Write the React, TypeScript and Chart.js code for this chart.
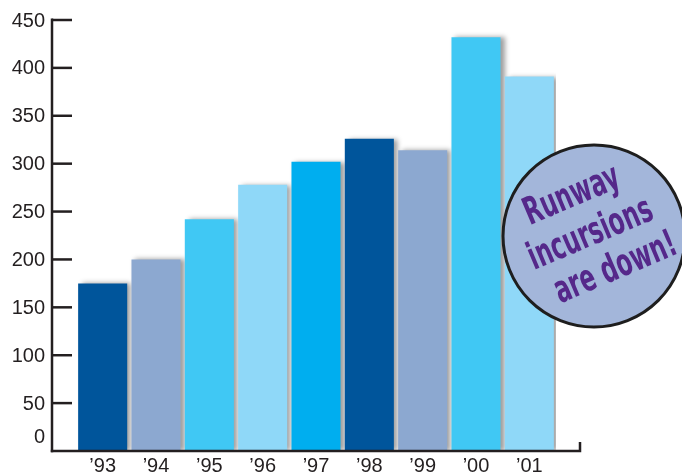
import React, { useEffect, useRef } from "react";
import { Chart, registerables } from "chart.js";

Chart.register(...registerables);

const years = ["’93", "’94", "’95", "’96", "’97", "’98", "’99", "’00", "’01"];
const incursions = [175, 200, 242, 278, 302, 326, 314, 432, 391];
const barColors = [
  "#00559B", "#8CA8D0", "#40C8F4", "#8FD8F8", "#00AEEF",
  "#00559B", "#8CA8D0", "#40C8F4", "#8FD8F8",
];
const yTickValues = [0, 50, 100, 150, 200, 250, 300, 350, 400, 450];
const badgeLines = ["Runway", "incursions", "are down!"];

const INK = "#231f20";
const FONT = "'Liberation Sans', Arial, sans-serif";
const BADGE_FONT = "'DejaVu Sans Condensed', 'DejaVu Sans', sans-serif";

const axesPlugin = {
  id: "customAxes",
  beforeDatasetsDraw(chart: any) {
    const ctx = chart.ctx;
    ctx.save();
    ctx.shadowColor = "rgba(0,0,0,0.38)";
    ctx.shadowBlur = 5;
    ctx.shadowOffsetX = 4;
    ctx.shadowOffsetY = 0;
  },
  afterDatasetsDraw(chart: any) {
    chart.ctx.restore();
  },
  afterDraw(chart: any) {
    const ctx = chart.ctx;
    const y = chart.scales.y;
    const area = chart.chartArea;
    const axisX = 52;
    const zeroY = y.getPixelForValue(0);
    const topY = y.getPixelForValue(450);
    ctx.save();
    ctx.strokeStyle = INK;
    ctx.lineWidth = 2.5;
    ctx.lineCap = "butt";
    ctx.beginPath();
    ctx.moveTo(axisX, topY - 1.5);
    ctx.lineTo(axisX, zeroY + 1.2);
    ctx.stroke();
    ctx.beginPath();
    ctx.moveTo(axisX - 1.2, zeroY);
    ctx.lineTo(area.right + 24, zeroY);
    ctx.lineTo(area.right + 24, zeroY - 9);
    ctx.stroke();
    ctx.fillStyle = INK;
    ctx.font = `20px ${FONT}`;
    ctx.textAlign = "right";
    ctx.textBaseline = "middle";
    yTickValues.forEach((v) => {
      const py = y.getPixelForValue(v);
      if (v !== 0) {
        ctx.beginPath();
        ctx.moveTo(axisX, py);
        ctx.lineTo(axisX + 20, py);
        ctx.stroke();
      }
      const ly = v === 0 ? py - 14 : py + 1;
      ctx.fillText(String(v), 45, ly);
    });
    ctx.restore();

    // badge
    const cx = 594;
    const cy = 236;
    const r = 91;
    ctx.save();
    ctx.beginPath();
    ctx.arc(cx, cy, r, 0, Math.PI * 2);
    ctx.fillStyle = "#A3B6DA";
    ctx.fill();
    ctx.lineWidth = 3;
    ctx.strokeStyle = "#1e1e1e";
    ctx.stroke();
    ctx.translate(592, 238);
    ctx.rotate((-23 * Math.PI) / 180);
    ctx.font = `bold 38px ${BADGE_FONT}`;
    const sx = 132 / ctx.measureText(badgeLines[1]).width;
    ctx.scale(sx, 1);
    ctx.fillStyle = "#55288A";
    ctx.textAlign = "center";
    ctx.textBaseline = "middle";
    const offs = [
      [-2, -46],
      [0, -3],
      [10, 38],
    ];
    badgeLines.forEach((t, i) => {
      ctx.fillText(t, offs[i][0] / sx, offs[i][1]);
    });
    ctx.restore();
  },
};

export default function App() {
  const ref = useRef<HTMLCanvasElement | null>(null);
  useEffect(() => {
    if (!ref.current) return;
    const chart = new Chart(ref.current, {
      type: "bar",
      data: {
        labels: years,
        datasets: [
          {
            data: incursions,
            backgroundColor: barColors,
            borderWidth: 0,
            barPercentage: 0.92,
            categoryPercentage: 1,
          },
        ],
      },
      options: {
        animation: false,
        responsive: false,
        devicePixelRatio: 1,
        layout: { padding: { left: 76, right: 126, top: 20, bottom: -7 } },
        plugins: { legend: { display: false }, tooltip: { enabled: false } },
        scales: {
          x: {
            display: true,
            grid: { display: false, drawTicks: false },
            border: { display: false },
            ticks: {
              color: INK,
              padding: 5,
              font: { size: 20, family: FONT, lineHeight: 1 },
              maxRotation: 0,
              autoSkip: false,
            },
          },
          y: {
            display: false,
            min: 0,
            max: 450,
          },
        },
      },
      plugins: [axesPlugin],
    });
    return () => chart.destroy();
  }, []);
  return (
    <div style={{ position: "fixed", left: 0, top: 0, width: 682, height: 474, background: "#fff" }}>
      <canvas ref={ref} width={682} height={474} style={{ width: 682, height: 474, display: "block" }} />
    </div>
  );
}
